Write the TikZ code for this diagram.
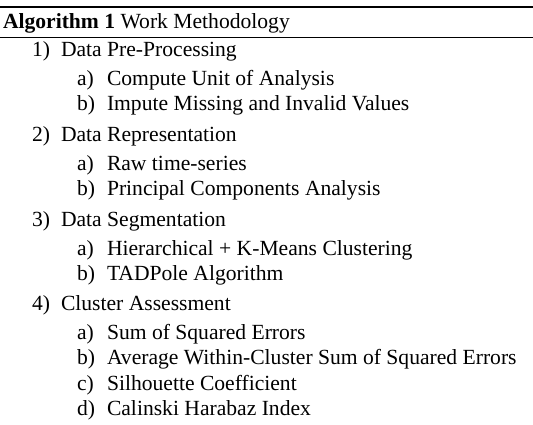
\documentclass[tikz,border=0pt]{standalone}
\usepackage{fontspec}
\setmainfont{Liberation Serif}
\begin{document}
\begin{tikzpicture}[x=1pt,y=-1pt,
  txt/.style={anchor=base west,inner sep=0pt,outer sep=0pt,font=\fontsize{21.6}{25}\selectfont},
  toprule/.style={line width=1.7pt},
  midrule/.style={line width=0.9pt}]
\useasboundingbox (0,0) rectangle (533,424);
% rules framing the caption
\coordinate (tl) at (0,7);
\coordinate (tr) at (533,7);
\coordinate (ml) at (0,37);
\coordinate (mr) at (533,37);
\draw[toprule] (tl) -- (tr);
\draw[midrule] (ml) -- (mr);
% caption
\node[txt] (cap) at (3,28) {\textbf{Algorithm 1} Work Methodology};
% numbered steps and their sub-steps
\node[txt] (n1) at (32,56) {1)};
\node[txt] (t1) at (61,56) {Data Pre-Processing};
\node[txt] (n1a) at (77,85) {a)};
\node[txt] (t1a) at (107,85) {Compute Unit of Analysis};
\node[txt] (n1b) at (77,110) {b)};
\node[txt] (t1b) at (107,110) {Impute Missing and Invalid Values};
\node[txt] (n2) at (32,141) {2)};
\node[txt] (t2) at (61,141) {Data Representation};
\node[txt] (n2a) at (77,170) {a)};
\node[txt] (t2a) at (107,170) {Raw time-series};
\node[txt] (n2b) at (77,195) {b)};
\node[txt] (t2b) at (107,195) {Principal Components Analysis};
\node[txt] (n3) at (32,226) {3)};
\node[txt] (t3) at (61,226) {Data Segmentation};
\node[txt] (n3a) at (77,255) {a)};
\node[txt] (t3a) at (107,255) {Hierarchical + K-Means Clustering};
\node[txt] (n3b) at (77,280) {b)};
\node[txt] (t3b) at (107,280) {TADPole Algorithm};
\node[txt] (n4) at (32,310) {4)};
\node[txt] (t4) at (61,310) {Cluster Assessment};
\node[txt] (n4a) at (77,339) {a)};
\node[txt] (t4a) at (107,339) {Sum of Squared Errors};
\node[txt] (n4b) at (77,364) {b)};
\node[txt] (t4b) at (107,364) {Average Within-Cluster Sum of Squared Errors};
\node[txt] (n4c) at (77,390) {c)};
\node[txt] (t4c) at (107,390) {Silhouette Coefficient};
\node[txt] (n4d) at (77,415) {d)};
\node[txt] (t4d) at (107,415) {Calinski Harabaz Index};
\end{tikzpicture}
\end{document}
